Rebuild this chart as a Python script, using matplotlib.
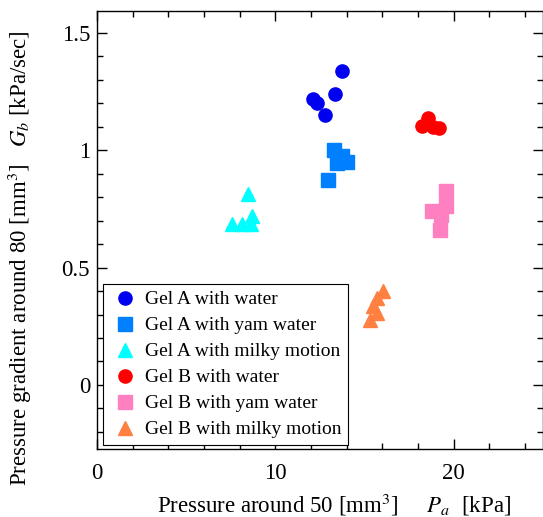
import matplotlib
matplotlib.use("Agg")
import matplotlib.pyplot as plt
from matplotlib.ticker import MultipleLocator

plt.rcParams['font.family'] = ['Liberation Serif', 'DejaVu Serif']
plt.rcParams['mathtext.fontset'] = 'stix'

# Data
a_water_x = [13.76, 12.08, 12.31, 13.35, 12.79]
a_water_y = [1.337, 1.220, 1.203, 1.241, 1.152]
a_yam_x = [13.29, 13.76, 13.99, 13.43, 12.94]
a_yam_y = [1.003, 0.974, 0.952, 0.945, 0.874]
a_milk_x = [8.48, 7.55, 8.11, 8.67, 8.61]
a_milk_y = [0.815, 0.685, 0.685, 0.721, 0.685]
b_water_x = [18.22, 18.58, 18.84, 19.16]
b_water_y = [1.105, 1.136, 1.100, 1.094]
b_yam_x = [19.59, 19.59, 18.78, 19.31, 19.23]
b_yam_y = [0.826, 0.764, 0.743, 0.725, 0.660]
b_milk_x = [16.04, 15.70, 15.48, 15.70, 15.29]
b_milk_y = [0.400, 0.370, 0.338, 0.305, 0.275]

labels = ["Gel A with water", "Gel A with yam water", "Gel A with milky motion",
          "Gel B with water", "Gel B with yam water", "Gel B with milky motion"]

fig = plt.figure(figsize=(5.43, 5.17), dpi=100)
ax = fig.add_axes([97/543, 68/517, 446/543, 438.3/517])

ms = 9.5
ax.plot(a_water_x, a_water_y, 'o', color='#0000F0', ms=ms, label=labels[0])
ax.plot(a_yam_x, a_yam_y, 's', color='#0080FF', ms=ms, label=labels[1])
ax.plot(a_milk_x, a_milk_y, '^', color='#00FFFF', ms=ms, label=labels[2])
ax.plot(b_water_x, b_water_y, 'o', color='#FF0000', ms=ms, label=labels[3])
ax.plot(b_yam_x, b_yam_y, 's', color='#FF80C0', ms=ms, label=labels[4])
ax.plot(b_milk_x, b_milk_y, '^', color='#FF8040', ms=ms, label=labels[5])

ax.set_xlim(0, 25)
ax.set_ylim(-0.273, 1.595)
ax.xaxis.set_major_locator(MultipleLocator(10))
ax.xaxis.set_minor_locator(MultipleLocator(2))
ax.yaxis.set_major_locator(MultipleLocator(0.5))
ax.yaxis.set_minor_locator(MultipleLocator(0.1))
ax.set_yticks([0, 0.5, 1, 1.5])
ax.set_yticklabels(['0', '0.5', '1', '1.5'])
ax.tick_params(which='both', direction='in', top=True, right=True, labelsize=16.5, width=1)
ax.tick_params(which='major', length=7)
ax.tick_params(axis='x', which='major', pad=10)
ax.tick_params(axis='y', which='major', pad=5)
ax.tick_params(which='minor', length=4)
for s in ax.spines.values():
    s.set_linewidth(1)

leg = ax.legend(loc='lower left', bbox_to_anchor=(0.005, 0.0), fontsize=14,
                frameon=True, fancybox=False, edgecolor='black', framealpha=1,
                handletextpad=0.3, labelspacing=0.43, borderpad=0.35, handlelength=1.5,
                borderaxespad=0.2)
leg.get_frame().set_linewidth(0.8)

fig.text(334/543, 1 - 505/517, "Pressure around 50 [mm$^3$]     $P_a$  [kPa]",
         ha='center', va='center', fontsize=16.5)
fig.text(20/543, 1 - 258/517, "Pressure gradient around 80 [mm$^3$]   $G_b$ [kPa/sec]",
         ha='center', va='center', rotation=90, fontsize=16.5)

fig.savefig("out.png", dpi=100)
